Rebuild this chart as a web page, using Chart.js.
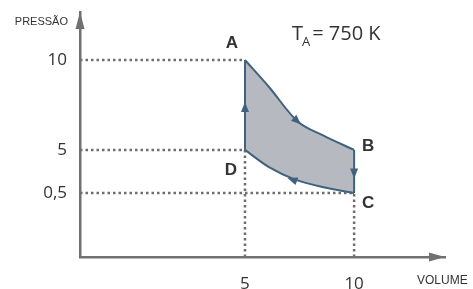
<!DOCTYPE html>
<html>
<head>
<meta charset="utf-8">
<script src="https://cdn.jsdelivr.net/npm/chart.js@4.4.1/dist/chart.umd.min.js"></script>
<style>
  html, body { margin: 0; padding: 0; background: #fff; }
  #wrap { width: 473px; height: 289px; }
</style>
</head>
<body>
<div id="wrap"><canvas id="chart"></canvas></div>
<script>
// cycle data (schematic P-V diagram)
const stateNames = ["A", "B", "C", "D"];
const stateVolume = [5, 10, 10, 5];
const statePressure = [10, 5, 0.5, 5];
const volumeTicks = [5, 10];
const pressureTicks = [0.5, 5, 10];
// A -> B curve
const curveABVolume = [5, 6.1, 7.4, 8.6, 10];
const curveABPressure = [10, 8.5, 6.6, 5.8, 5];
// D -> C curve (drawn C -> D)
const curveDCVolume = [5, 6.1, 7.3, 8.6, 10];
const curveDCPressure = [5, 3.2, 1.9, 1.1, 0.5];
const tempA = 750;

const LINE = "#40627f";
const FILL = "#b6b9bf";
const DOT = "#6e6e6e";
const AXIS = "#707070";
const TEXT = "#333333";

// the picture is not drawn to scale, so each axis is piecewise linear
const WARP = {
  x: { values: [0, 5, 10, 14], fracs: [0, 0.452, 0.751, 1] },
  y: { values: [0, 0.5, 5, 10, 12.5], fracs: [0, 0.261, 0.437, 0.804, 1] }
};

function warp(v, w) {
  const vs = w.values, fs = w.fracs;
  for (let i = 1; i < vs.length; i++) {
    if (v <= vs[i] || i === vs.length - 1) {
      const t = (v - vs[i - 1]) / (vs[i] - vs[i - 1]);
      return fs[i - 1] + t * (fs[i] - fs[i - 1]);
    }
  }
}
function unwarp(f, w) {
  const vs = w.values, fs = w.fracs;
  for (let i = 1; i < fs.length; i++) {
    if (f <= fs[i] || i === fs.length - 1) {
      const t = (f - fs[i - 1]) / (fs[i] - fs[i - 1]);
      return vs[i - 1] + t * (vs[i] - vs[i - 1]);
    }
  }
}

class WarpScale extends Chart.LinearScale {
  getPixelForValue(value) {
    if (value === null || value === undefined || isNaN(value)) return NaN;
    return this.getPixelForDecimal(warp(value, WARP[this.id]));
  }
  getValueForPixel(pixel) {
    return unwarp(this.getDecimalForPixel(pixel), WARP[this.id]);
  }
}
WarpScale.id = "warp";
WarpScale.defaults = {};
Chart.register(WarpScale);

const pts = (xs, ys) => xs.map((x, i) => ({ x: x, y: ys[i] }));
const A = { x: stateVolume[0], y: statePressure[0] };
const B = { x: stateVolume[1], y: statePressure[1] };
const C = { x: stateVolume[2], y: statePressure[2] };
const D = { x: stateVolume[3], y: statePressure[3] };

const fmt = v => String(v).replace(".", ",");

function dotted(data) {
  return { data: data, borderColor: DOT, borderWidth: 2.5, borderDash: [2.5, 3], pointRadius: 0, fill: false };
}

const datasets = [
  { data: pts(curveABVolume, curveABPressure), borderColor: LINE, borderWidth: 2, backgroundColor: FILL,
    fill: "+1", cubicInterpolationMode: "monotone", pointRadius: 0 },
  { data: pts(curveDCVolume, curveDCPressure), borderColor: LINE, borderWidth: 2,
    fill: false, cubicInterpolationMode: "monotone", pointRadius: 0 },
  { data: [D, A], borderColor: LINE, borderWidth: 2, pointRadius: 0, fill: false },
  { data: [B, C], borderColor: LINE, borderWidth: 2, pointRadius: 0, fill: false },
  dotted([{ x: 0, y: A.y }, A]),
  dotted([{ x: 0, y: D.y }, D]),
  dotted([{ x: 0, y: C.y }, C]),
  dotted([{ x: D.x, y: 0 }, D]),
  dotted([{ x: C.x, y: 0 }, C])
];

function arrowHead(ctx, x, y, angle) {
  ctx.save();
  ctx.translate(x, y);
  ctx.rotate(angle);
  ctx.beginPath();
  ctx.moveTo(5, 0);
  ctx.lineTo(-5, -4);
  ctx.lineTo(-5, 4);
  ctx.closePath();
  ctx.fill();
  ctx.restore();
}

const decorations = {
  id: "decorations",
  afterDraw(chart) {
    const ctx = chart.ctx;
    const xs = chart.scales.x, ys = chart.scales.y;
    const ca = chart.chartArea;
    const px = p => ({ x: xs.getPixelForValue(p.x), y: ys.getPixelForValue(p.y) });

    // axis arrowheads
    ctx.fillStyle = AXIS;
    ctx.beginPath();
    ctx.moveTo(ca.left, ca.top);
    ctx.lineTo(ca.left - 4.5, ca.top + 17);
    ctx.lineTo(ca.left + 4.5, ca.top + 17);
    ctx.closePath();
    ctx.fill();
    ctx.beginPath();
    ctx.moveTo(ca.right, ca.bottom);
    ctx.lineTo(ca.right - 16, ca.bottom - 4.5);
    ctx.lineTo(ca.right - 16, ca.bottom + 4.5);
    ctx.closePath();
    ctx.fill();

    // direction arrows on the cycle
    ctx.fillStyle = LINE;
    const a = px(A), b = px(B), c = px(C), d = px(D);
    arrowHead(ctx, (a.x + d.x) / 2, (a.y + d.y) / 2 + 2, -Math.PI / 2);
    arrowHead(ctx, (b.x + c.x) / 2, (b.y + c.y) / 2 + 2, Math.PI / 2);
    const ab = pts(curveABVolume, curveABPressure).map(px);
    arrowHead(ctx, ab[2].x, ab[2].y, Math.atan2(ab[3].y - ab[1].y, ab[3].x - ab[1].x));
    const dc = pts(curveDCVolume, curveDCPressure).map(px);
    arrowHead(ctx, dc[2].x - 3, dc[2].y, Math.atan2(dc[1].y - dc[3].y, dc[1].x - dc[3].x));

    // state labels
    ctx.fillStyle = TEXT;
    ctx.font = "bold 17px 'Liberation Sans', Arial, sans-serif";
    ctx.textAlign = "center";
    ctx.textBaseline = "middle";
    const offs = [[-13, -17], [14, -4], [14, 10], [-14, 20]];
    [a, b, c, d].forEach((p, i) => ctx.fillText(stateNames[i], p.x + offs[i][0], p.y + offs[i][1]));

    // axis names
    ctx.font = "11px 'Liberation Sans', Arial, sans-serif";
    ctx.textAlign = "right";
    ctx.textBaseline = "alphabetic";
    ctx.fillText("PRESSÃO", ca.left - 12, 25);
    ctx.font = "12px 'Liberation Sans', Arial, sans-serif";
    ctx.textAlign = "left";
    ctx.fillText("VOLUME", ca.right - 28, 284);

    // temperature note
    ctx.font = "20px 'Open Sans', sans-serif";
    ctx.textAlign = "left";
    ctx.fillText("T", 292, 40);
    let x = 292 + ctx.measureText("T").width;
    ctx.font = "13px 'Open Sans', sans-serif";
    ctx.fillText("A", x - 1, 46);
    x += ctx.measureText("A").width + 1;
    ctx.font = "20px 'Open Sans', sans-serif";
    ctx.fillText("= " + tempA + " K", x, 40);
  }
};

new Chart(document.getElementById("chart"), {
  type: "line",
  data: { datasets: datasets },
  options: {
    responsive: true,
    maintainAspectRatio: false,
    animation: false,
    layout: { padding: { top: 12, right: 28, left: 0, bottom: 0 } },
    plugins: { legend: { display: false }, tooltip: { enabled: false }, filler: { drawTime: "beforeDatasetsDraw" } },
    scales: {
      x: {
        type: "warp", min: 0, max: 14, bounds: "data",
        grid: { display: false, drawTicks: false },
        border: { color: AXIS, width: 2.5 },
        ticks: { autoSkip: false, maxRotation: 0, padding: 17, color: TEXT,
                 font: { family: "'Open Sans', sans-serif", size: 17 }, callback: fmt },
        afterBuildTicks: s => { s.ticks = volumeTicks.map(v => ({ value: v })); },
        afterFit: s => { s.height = 32; s.paddingLeft = 0; s.paddingRight = 0; }
      },
      y: {
        type: "warp", min: 0, max: 12.5, bounds: "data",
        grid: { display: false, drawTicks: false },
        border: { color: AXIS, width: 2.5 },
        ticks: { autoSkip: false, padding: 13, color: TEXT,
                 font: { family: "'Open Sans', sans-serif", size: 17 }, callback: fmt },
        afterBuildTicks: s => { s.ticks = pressureTicks.map(v => ({ value: v })); },
        afterFit: s => { s.width = 80; s.paddingTop = 0; s.paddingBottom = 0; }
      }
    }
  },
  plugins: [decorations]
});
</script>
</body>
</html>
